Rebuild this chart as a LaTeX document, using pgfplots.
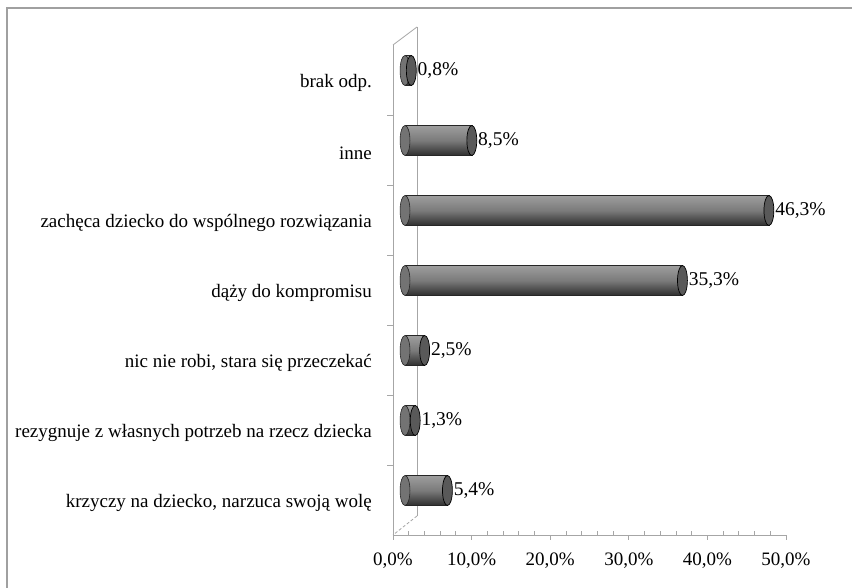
\documentclass[border=0pt]{standalone}
\usepackage{fontspec}
\setmainfont{Liberation Serif}
\usepackage{pgfplots}
\usepackage{pgfplotstable}
\pgfplotsset{compat=1.18}
\definecolor{axgray}{HTML}{A6A6A6}
\definecolor{framegray}{HTML}{A0A0A0}
\pgfplotstableread{
pos val
1 5.4
2 1.3
3 2.5
4 35.3
5 46.3
6 8.5
7 0.8
}\data
\begin{document}
\begin{tikzpicture}
\path[use as bounding box] (0,0) rectangle (852pt,588pt);
\fill[white] (0,0) rectangle (852pt,588pt);
\draw[framegray, line width=2pt] (7pt,-2pt) -- (7pt,580pt) -- (854pt,580pt);
% front axis
\begin{axis}[
  at={(393pt,53pt)}, anchor=south west,
  width=393pt, height=490pt, scale only axis,
  xmin=0, xmax=50, ymin=0.5, ymax=7.5,
  clip=false,
  axis x line*=bottom, axis y line*=left,
  axis line style={axgray, line width=0.8pt},
  xtick={0,10,...,50},
  tick align=outside,
  major tick length=5pt,
  xtick style={axgray, line width=0.8pt},
  ytick style={draw=none},
  /pgf/number format/assume math mode=true,
  xticklabel={\pgfmathprintnumber[fixed,fixed zerofill,precision=1,use comma]{\tick}\%},
  xticklabel style={font=\fontsize{19}{22}\selectfont, yshift=-9pt},
  ytick={1,...,7},
  yticklabels={krzyczy na dziecko{,} narzuca swoją wolę,
    rezygnuje z własnych potrzeb na rzecz dziecka,
    {nic nie robi, stara się przeczekać},
    dąży do kompromisu,
    zachęca dziecko do wspólnego rozwiązania,
    inne,
    brak odp.},
  yticklabel style={font=\fontsize{19}{22}\selectfont, anchor=east, inner sep=0pt, xshift=-16pt, yshift=-3pt},
]
\addplot[draw=none, forget plot] coordinates {(0,1)};
\pgfplotsinvokeforeach{2,4,6,8,12,14,16,18,22,24,26,28,32,34,36,38,42,44,46,48}{
  \draw[axgray, line width=0.8pt] (axis cs:#1,0.5) -- ++(0pt,4pt);
}
\pgfplotsinvokeforeach{1.5,2.5,3.5,4.5,5.5,6.5}{
  \draw[axgray, line width=0.8pt] (axis cs:0,#1) -- ++(-6pt,0pt);
}
\draw[axgray, line width=0.8pt] (axis cs:0,7.5) -- ++(24pt,18pt) coordinate (bt);
\draw[axgray, line width=0.8pt] (bt) -- ++(0pt,-489pt) coordinate (bb);
\draw[axgray, line width=0.8pt, dash pattern=on 3pt off 2pt] (bb) -- (axis cs:0,0.5);
\end{axis}
% bars (shifted to mid depth)
\begin{axis}[
  at={(405pt,62.5pt)}, anchor=south west,
  width=393pt, height=490pt, scale only axis,
  xmin=0, xmax=50, ymin=0.5, ymax=7.5,
  clip=false, hide axis,
  cyl/.style={xbar, bar width=30pt, bar shift=0pt, draw=black!85, line width=0.6pt,
    top color=black!38, bottom color=black!82, middle color=black!52},
]
\addplot[only marks, mark=*, mark size=15pt,
  mark options={xscale=0.33, fill=black!55, draw=black!85, line width=0.6pt}]
  table[x expr=0, y=pos] {\data};
\addplot[cyl] coordinates {(5.4,1)};
\addplot[cyl] coordinates {(1.3,2)};
\addplot[cyl] coordinates {(2.5,3)};
\addplot[cyl] coordinates {(35.3,4)};
\addplot[cyl] coordinates {(46.3,5)};
\addplot[cyl] coordinates {(8.5,6)};
\addplot[cyl] coordinates {(0.8,7)};
\addplot[only marks, mark=*, mark size=15pt,
  mark options={xscale=0.33, fill=black!65, draw=black, line width=0.7pt},
  point meta=explicit,
  nodes near coords={\pgfmathprintnumber[fixed,fixed zerofill,precision=1,use comma,assume math mode=true]{\pgfplotspointmeta}\%},
  nodes near coords align={anchor=west},
  every node near coord/.append style={font=\fontsize{19.5}{22}\selectfont, inner sep=0pt, xshift=6pt, black},
  ] table[x=val, y=pos, meta=val] {\data};
\end{axis}
\end{tikzpicture}
\end{document}
